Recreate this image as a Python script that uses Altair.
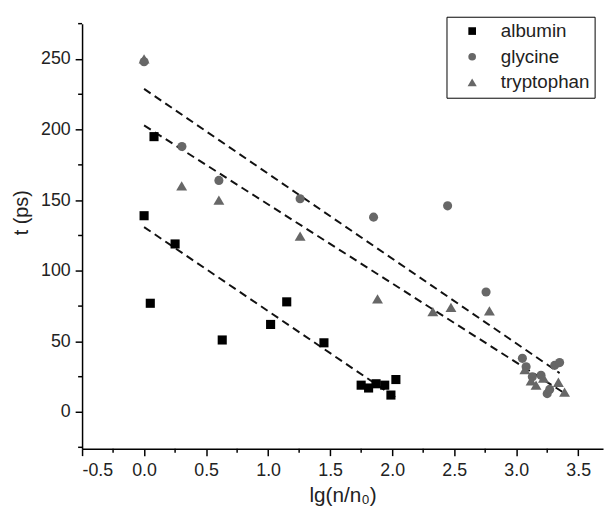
import altair as alt
import pandas as pd

# ---- data ----
series_names = ["albumin", "glycine", "tryptophan"]

alb_x = [0.0, 0.05, 0.08, 0.25, 0.63, 1.02, 1.15, 1.45, 1.75, 1.81, 1.87, 1.94, 1.99, 2.03]
alb_y = [139, 77, 195, 119, 51, 62, 78, 49, 19, 17, 20, 19, 12, 23]

gly_x = [0.0, 0.305, 0.603, 1.258, 1.85, 2.447, 2.757, 3.05, 3.08, 3.13, 3.2, 3.25, 3.27, 3.31, 3.35]
gly_y = [248, 188, 164, 151, 138, 146, 85, 38, 32, 25, 26, 13, 16, 33, 35]

try_x = [0.0, 0.303, 0.603, 1.258, 1.882, 2.328, 2.474, 2.784, 3.07, 3.12, 3.16, 3.22, 3.34, 3.39]
try_y = [250, 160, 150, 124.5, 80, 71, 74, 71.5, 30, 22, 19, 24, 21, 14]

x_ticks = [-0.5, 0.0, 0.5, 1.0, 1.5, 2.0, 2.5, 3.0, 3.5]
x_minor = [-0.25, 0.25, 0.75, 1.25, 1.75, 2.25, 2.75, 3.25]
y_ticks = [0, 50, 100, 150, 200, 250]
y_minor = [-25, 25, 75, 125, 175, 225, 275]

x_domain = [-0.5, 3.7]
y_domain = [-26, 275]

rows = []
for name, xs, ys in zip(series_names, [alb_x, gly_x, try_x], [alb_y, gly_y, try_y]):
    for a, b in zip(xs, ys):
        rows.append({"series": name, "x": a, "y": b})
df = pd.DataFrame(rows)

W = 527.5
H = 430.4
FONT = "Liberation Sans"
TXT = "#222222"
GRAY = "#676767"
TRIANGLE = "M0,-1.05L1.2,1L-1.2,1Z"

xscale = alt.Scale(domain=x_domain, nice=False, zero=False)
yscale = alt.Scale(domain=y_domain, nice=False, zero=False)

legend_kw = dict(title=None, orient="none", legendX=369, legendY=-7,
                 strokeColor="#000000", padding=5,
                 labelFontSize=19, labelFont=FONT, labelColor=TXT,
                 symbolSize=60, symbolOffset=11.5, labelOffset=19.5,
                 rowPadding=6)

base = alt.Chart(df)

points = base.mark_point(filled=True, opacity=1, strokeWidth=0, size=85).encode(
    x=alt.X("x:Q", scale=xscale,
            axis=alt.Axis(values=x_ticks, title="lg(n/n₀)",
                          labelExpr="(datum.value < 0 ? '-' : '') + format(abs(datum.value), '.1f')",
                          labelPadding=6, titlePadding=5, titleFontSize=21)),
    y=alt.Y("y:Q", scale=yscale,
            axis=alt.Axis(values=y_ticks, title="t (ps)", labelPadding=5,
                          titleFontSize=20, titleX=-61, titleY=191,
                          titleBaseline="middle")),
    color=alt.Color("series:N",
                    scale=alt.Scale(domain=series_names, range=["#000000", GRAY, GRAY]),
                    legend=alt.Legend(**legend_kw)),
    shape=alt.Shape("series:N",
                    scale=alt.Scale(domain=series_names,
                                    range=["square", "circle", TRIANGLE]),
                    legend=alt.Legend(**legend_kw)),
)

fits = base.transform_regression("x", "y", groupby=["series"]).mark_line(
    color="#111111", strokeWidth=2, strokeDash=[8, 5]
).encode(
    x=alt.X("x:Q", scale=xscale),
    y=alt.Y("y:Q", scale=yscale),
    detail="series:N",
)

ym = pd.DataFrame({"v": y_minor})
xm = pd.DataFrame({"v": x_minor})
y_minor_ticks = alt.Chart(ym).mark_rule(color="#000000", strokeWidth=1.5).encode(
    y=alt.Y("v:Q", scale=yscale),
    x=alt.value(-4), x2=alt.value(0),
)
x_minor_ticks = alt.Chart(xm).mark_rule(color="#000000", strokeWidth=1.5).encode(
    x=alt.X("v:Q", scale=xscale),
    y=alt.value(H), y2=alt.value(H + 4),
)

chart = alt.layer(fits, points, y_minor_ticks, x_minor_ticks).properties(
    width=W, height=H,
    autosize=alt.AutoSizeParams(type="none"),
    padding={"left": 75, "top": 12.7, "right": 2, "bottom": 60},
).configure_view(stroke=None).configure_axis(
    grid=False, domainColor="#000000", domainWidth=1.5,
    tickColor="#000000", tickWidth=1.5, tickSize=7,
    labelFont=FONT, labelFontSize=18, labelColor=TXT,
    titleFont=FONT, titleFontWeight="normal", titleColor=TXT,
    labelOverlap=False,
)

chart.save("out.html", embed_options={"renderer": "svg", "actions": False})
